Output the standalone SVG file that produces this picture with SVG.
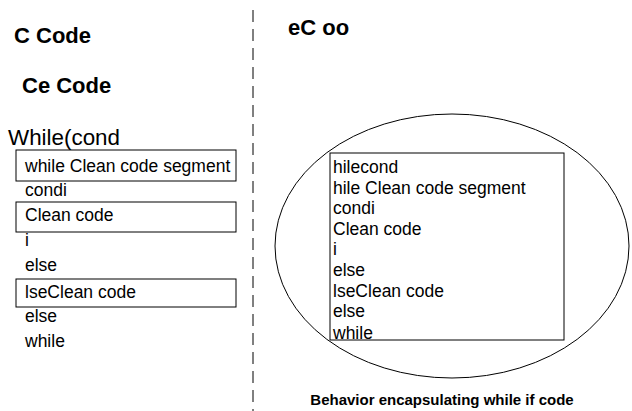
<svg xmlns="http://www.w3.org/2000/svg" width="632" height="411" viewBox="0 0 632 411">
<style>
.t{font-family:"Liberation Sans",Arial,sans-serif;font-size:17.5px;fill:#000}
.b{font-family:"Liberation Sans",Arial,sans-serif;font-weight:bold;fill:#000}
.box{fill:none;stroke:#000;stroke-width:1}
</style>
<rect width="632" height="411" fill="#fff"/>
<g id="divider"><line x1="253" y1="10" x2="253" y2="411" stroke="#000" stroke-width="1" stroke-dasharray="12 7"/></g>
<g id="left-titles">
<text class="b" x="14" y="43" font-size="22">C Code</text>
<text class="b" x="22" y="93" font-size="22">Ce Code</text>
</g>
<g id="left-code">
<text class="t" x="8" y="145" style="font-size:22.4px">While(cond</text>
<rect class="box" x="16" y="150" width="220" height="31"/>
<text class="t" x="25" y="172">while Clean code segment</text>
<text class="t" x="25" y="196">condi</text>
<rect class="box" x="16" y="202" width="220" height="30"/>
<text class="t" x="25" y="221">Clean code</text>
<text class="t" x="25" y="246">i</text>
<text class="t" x="25" y="271">else</text>
<rect class="box" x="16" y="279" width="220" height="28"/>
<text class="t" x="25" y="298">lseClean code</text>
<text class="t" x="25" y="322">else</text>
<text class="t" x="25" y="347">while</text>
</g>
<g id="right-title"><text class="b" x="288" y="35" font-size="22">eC oo</text></g>
<g id="behavior">
<ellipse class="box" cx="452" cy="246" rx="177" ry="132"/>
<text class="t" x="333" y="173">hilecond</text>
<text class="t" x="333" y="193.6">hile Clean code segment</text>
<text class="t" x="333" y="214.2">condi</text>
<text class="t" x="333" y="234.8">Clean code</text>
<text class="t" x="333" y="255.4">i</text>
<text class="t" x="333" y="276">else</text>
<text class="t" x="333" y="296.6">lseClean code</text>
<text class="t" x="333" y="317.2">else</text>
<text class="t" x="333" y="338.5">while</text>
<rect class="box" x="330" y="153" width="234" height="187"/>
</g>
<g id="caption"><text class="b" x="442" y="405" font-size="15" text-anchor="middle">Behavior encapsulating while if code</text></g>
</svg>
